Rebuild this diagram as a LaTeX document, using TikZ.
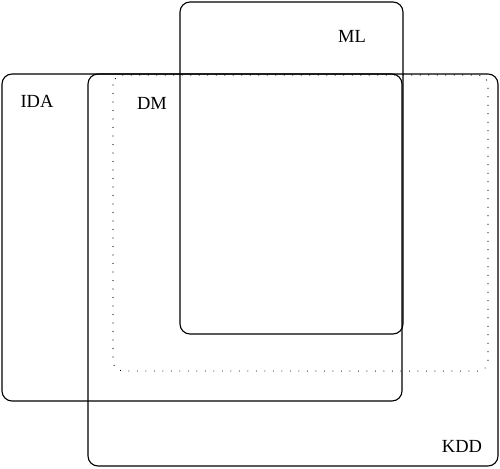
\documentclass[tikz,border=0pt]{standalone}
\usepackage{fontspec}
\setmainfont{Liberation Serif}
\begin{document}
\begin{tikzpicture}[x=1pt,y=-1pt,
  setbox/.style={draw=black,line width=1.1pt,rounded corners=10pt},
  dmbox/.style={draw=black,line width=1.2pt,line cap=round,dash pattern=on 0pt off 8.5pt,rounded corners=10pt},
  lbl/.style={font=\fontsize{18.5}{20}\selectfont,inner sep=0pt}]
\useasboundingbox (0,0) rectangle (500,468);
\draw[setbox] (2,74) rectangle (402,401) coordinate (idaC);
\draw[setbox] (88,74) rectangle (498,466) coordinate (kddC);
\draw[dmbox] (113,75) rectangle (488,371) coordinate (dmC);
\draw[setbox] (180,2) rectangle (403,334) coordinate (mlC);
\node[lbl] (ida) at (37,101) {IDA};
\node[lbl] (dm) at (152,103) {DM};
\node[lbl] (ml) at (352,36) {ML};
\node[lbl] (kdd) at (462,446) {KDD};
\end{tikzpicture}
\end{document}
